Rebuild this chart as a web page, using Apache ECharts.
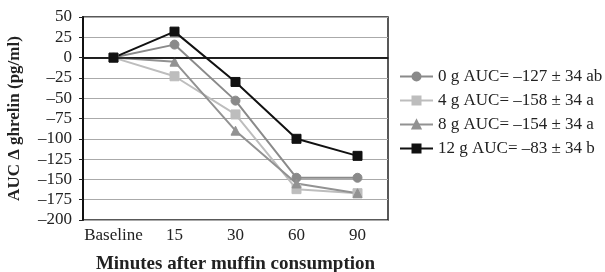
<!DOCTYPE html>
<html>
<head>
<meta charset="utf-8">
<script src="https://cdn.jsdelivr.net/npm/echarts@6/dist/echarts.min.js"></script>
<style>
  html, body { margin: 0; padding: 0; background: #fff; }
  #chart { width: 605px; height: 272px; }
</style>
</head>
<body>
<div id="chart"></div>
<script>
const categories = ['Baseline', '15', '30', '60', '90']
const g0 = [0, 16, -53, -148, -148]
const g4 = [0, -23, -70, -162, -167]
const g8 = [0, -5, -90, -155, -167]
const g12 = [0, 32, -30, -100, -121]
const seriesNames = [
  '0 g AUC= \u2013127 \u00b1 34 ab',
  '4 g AUC= \u2013158 \u00b1 34 a',
  '8 g AUC= \u2013154 \u00b1 34 a',
  '12 g AUC= \u201383 \u00b1 34 b'
]

const font = 'Liberation Serif, Times New Roman, serif'
const chart = echarts.init(document.getElementById('chart'))

const makeSeries = (name, data, color, symbol, size) => ({
  name,
  type: 'line',
  data,
  symbol,
  symbolSize: size,
  lineStyle: { color, width: 2 },
  itemStyle: { color, borderColor: color, borderWidth: 1 },
  animation: false
})

const series = [
  makeSeries(seriesNames[0], g0, '#8a8a8a', 'circle', 9),
  makeSeries(seriesNames[1], g4, '#bdbdbd', 'rect', 9),
  makeSeries(seriesNames[2], g8, '#929292', 'triangle', 9),
  makeSeries(seriesNames[3], g12, '#111', 'rect', 9)
]
// darker zero line
series[0].markLine = {
  silent: true,
  symbol: 'none',
  label: { show: false },
  lineStyle: { color: '#111', width: 1.5, type: 'solid' },
  data: [{ yAxis: 0 }]
}

chart.setOption({
  animation: false,
  textStyle: { fontFamily: font },
  grid: {
    left: 83, right: 217, top: 17, bottom: 52,
    outerBoundsMode: 'none',
    containLabel: false,
    show: true, borderColor: '#222', borderWidth: 1.5
  },
  legend: {
    orient: 'vertical',
    left: 399,
    top: 68,
    padding: 0,
    itemWidth: 33,
    itemHeight: 10,
    itemGap: 7,
    textStyle: { fontFamily: font, fontSize: 17, color: '#222' },
    data: seriesNames
  },
  xAxis: {
    type: 'category',
    data: categories,
    boundaryGap: true,
    name: 'Minutes after muffin consumption',
    nameLocation: 'middle',
    nameGap: 35,
    nameTextStyle: { fontFamily: font, fontSize: 19, fontWeight: 'bold', color: '#222' },
    axisLine: { lineStyle: { color: '#222', width: 1.5 } },
    axisTick: { show: false },
    axisLabel: { interval: 0, fontFamily: font, fontSize: 17, color: '#222', margin: 7 }
  },
  yAxis: {
    type: 'value',
    min: -200,
    max: 50,
    interval: 25,
    name: 'AUC \u0394 ghrelin (pg/ml)',
    nameLocation: 'middle',
    nameGap: 60,
    nameTextStyle: { fontFamily: font, fontSize: 17, fontWeight: 'bold', color: '#222' },
    axisLine: { show: true, lineStyle: { color: '#111', width: 2 } },
    axisTick: { show: true, length: 4, lineStyle: { color: '#222' } },
    axisLabel: {
      fontFamily: font, fontSize: 17, color: '#222', margin: 11,
      formatter: v => String(v).replace('-', '\u2013')
    },
    splitLine: { lineStyle: { color: '#aaa', width: 1.2 } }
  },
  series
})
</script>
</body>
</html>
